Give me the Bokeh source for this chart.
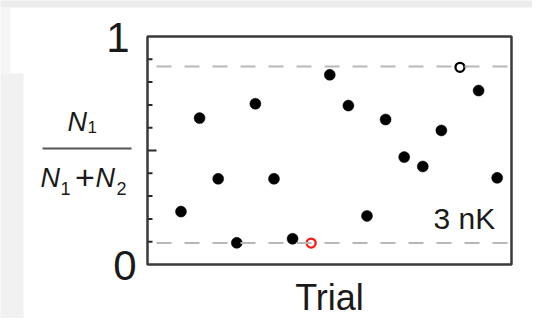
from bokeh.plotting import figure
from bokeh.models import Range1d, Span
from bokeh.core.properties import value
from bokeh.embed import file_html
from bokeh.resources import INLINE

# ---- data ----
trials = list(range(1, 19))
fraction = [0.232, 0.642, 0.376, 0.095, 0.705, 0.376, 0.113, 0.094, 0.832,
            0.697, 0.213, 0.636, 0.471, 0.430, 0.588, 0.865, 0.763, 0.380]
style = ["filled"] * 18
style[7] = "open_red"
style[15] = "open_black"
levels = [0.868, 0.094]
y_major = [0.5]
y_minor = [0.1, 0.2, 0.3, 0.4, 0.6, 0.7, 0.8, 0.9]
y_tick_text = ["1", "0"]
temp_label = "3 nK"
x_label = "Trial"

FONT = "Liberation Sans"
INK = "#1a1a1a"

W, H = 532, 318
FL, FR, FT, FB = 147, 511, 36, 264   # frame edges in canvas pixels
X0, X1 = -0.8, 18.77
p = figure(width=W, height=H, output_backend="svg", toolbar_location=None,
           x_range=Range1d(X0, X1), y_range=Range1d(0, 1),
           min_border_left=FL, min_border_right=W - FR,
           min_border_top=FT, min_border_bottom=H - FB)
p.background_fill_color = "white"
p.border_fill_color = "white"
p.outline_line_color = "#3a3a3a"
p.outline_line_width = 2.5
p.xaxis.visible = False
p.yaxis.visible = False
p.xgrid.visible = False
p.ygrid.visible = False

# helpers: canvas-pixel -> data coordinates
def dx(px):
    return X0 + (px - FL) * (X1 - X0) / (FR - FL)

def dy(py):
    return (FB - py) / (FB - FT)

def wx(npx):
    return npx * (X1 - X0) / (FR - FL)

# inward ticks on the left edge (0.5 long, others short)
for ticks, length in [(y_major, 9), (y_minor, 5)]:
    p.segment(x0=[X0] * len(ticks), y0=ticks, x1=[X0 + wx(length)] * len(ticks),
              y1=ticks, line_color="#2a2a2a", line_width=2)

# dashed reference levels
for lv in levels:
    p.add_layout(Span(location=lv, dimension="width", line_color="#b8b8b8",
                      line_width=2, line_dash="15 13", line_dash_offset=19))

# points
fx = [t for t, s in zip(trials, style) if s == "filled"]
fy = [v for v, s in zip(fraction, style) if s == "filled"]
p.scatter(fx, fy, size=11, fill_color="black", line_color="black", line_width=0.5)
rx = [t for t, s in zip(trials, style) if s == "open_red"]
ry = [v for v, s in zip(fraction, style) if s == "open_red"]
p.scatter(rx, ry, size=9, fill_color="white", line_color="#ff1a1a", line_width=2.3)
bx = [t for t, s in zip(trials, style) if s == "open_black"]
by = [v for v, s in zip(fraction, style) if s == "open_black"]
p.scatter(bx, by, size=9, fill_color="white", line_color="black", line_width=2.3)

def txt(text, px, base_py, size, style="normal", align="left"):
    # base_py: wanted baseline; glyph is placed by its cap-height centre
    py = base_py - 0.36 * size
    r = p.text(x=[dx(px)], y=[dy(py)], text=[text], text_font=value(FONT),
               text_font_size=f"{size}px", text_font_style=style, text_color=INK,
               text_align=align, text_baseline="alphabetic")
    r.level = "overlay"

# page backdrop (screenshot card edges)
for l, r_, t, b, c in [(0, W, 0, 7, "#ececec"), (0, 10, 7, 73, "#f5f5f5"),
                       (0, 23, 73, H, "#f1f1f1")]:
    q = p.quad(left=[dx(l)], right=[dx(r_)], top=[dy(t)], bottom=[dy(b)],
               fill_color=c, line_color=None)
    q.level = "overlay"

# tick labels 1 and 0
txt(y_tick_text[0], 129, 52, 42, align="right")
txt(y_tick_text[1], 136, 280, 42, align="right")

# x label
txt(x_label, 329, 310, 36, align="center")

# temperature label
txt(temp_label, 433, 229, 30)

# y-axis fraction label N1 / (N1 + N2)
txt("N", 67, 131, 27, "italic")
txt("1", 87, 133, 17)
seg = p.segment(x0=[dx(42)], y0=[dy(148)], x1=[dx(131)], y1=[dy(148)],
                line_color="#555555", line_width=2)
seg.level = "overlay"
txt("N", 40, 187, 27, "italic")
txt("1", 60, 194, 18)
txt("+", 84.5, 189, 34, align="center")
txt("N", 95, 187, 27, "italic")
txt("2", 116, 194, 18)

open("out.html", "w").write(file_html(p, INLINE))
